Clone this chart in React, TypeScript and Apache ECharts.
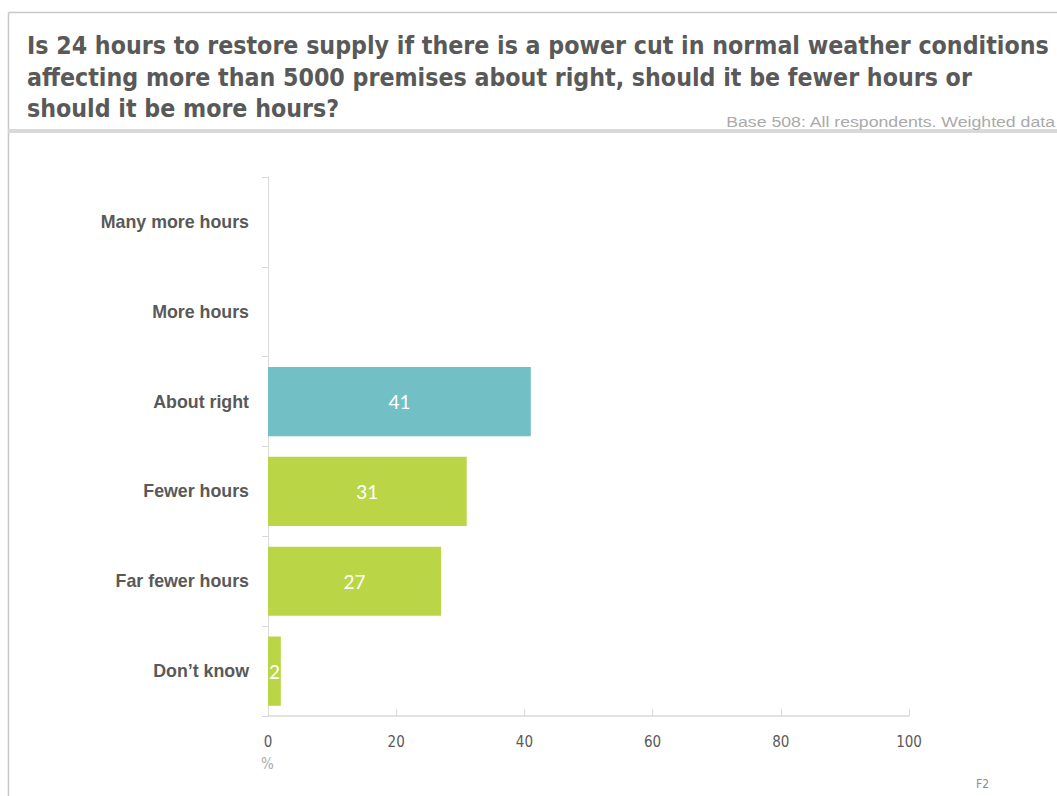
import React, { useEffect, useRef } from "react";
import * as echarts from "echarts";

const categories = [
  "Many more hours",
  "More hours",
  "About right",
  "Fewer hours",
  "Far fewer hours",
  "Don’t know",
];
const values = [0, 0, 41, 31, 27, 2];
const barColors = ["#BAD646", "#BAD646", "#72BFC5", "#BAD646", "#BAD646", "#BAD646"];
const xTicks = [0, 20, 40, 60, 80, 100];

const titleLines = [
  "Is 24 hours to restore supply if there is a power cut in normal weather conditions",
  "affecting more than 5000 premises about right, should it be fewer hours or",
  "should it be more hours?",
];
const baseNote = "Base 508: All respondents. Weighted data";

export default function App() {
  const ref = useRef<HTMLDivElement>(null);

  useEffect(() => {
    if (!ref.current) return;
    const chart = echarts.init(ref.current, null, { renderer: "svg" });
    const titleFont = '"DejaVu Sans Condensed", "DejaVu Sans", sans-serif';
    const option: echarts.EChartsOption = {
      animation: false,
      backgroundColor: "#ffffff",
      grid: { left: 268, right: 148, top: 177, bottom: 80, containLabel: false },
      xAxis: {
        type: "value",
        min: xTicks[0],
        max: xTicks[xTicks.length - 1],
        interval: 20,
        axisLine: { show: true, lineStyle: { color: "#d9d9d9", width: 1.5 } },
        axisTick: { show: true, inside: true, length: 7, lineStyle: { color: "#d9d9d9" } },
        splitLine: { show: false },
        axisLabel: {
          color: "#595959",
          fontSize: 15,
          fontFamily: titleFont,
          margin: 18,
        },
      },
      yAxis: {
        type: "category",
        data: categories,
        inverse: true,
        axisLine: { show: true, lineStyle: { color: "#d9d9d9" } },
        axisTick: { show: true, length: 6, lineStyle: { color: "#d9d9d9" } },
        axisLabel: {
          color: "#595959",
          fontSize: 17.8,
          fontWeight: "bold",
          fontFamily: '"Liberation Sans", Arial, sans-serif',
          margin: 19,
        },
      },
      series: [
        {
          type: "bar",
          barWidth: "77%",
          data: values.map((v, i) => ({ value: v, itemStyle: { color: barColors[i] } })),
          label: {
            show: true,
            position: "inside",
            color: "#ffffff",
            fontSize: 19,
            fontFamily: "Lato, sans-serif",
            formatter: (p: any) => (p.value ? String(p.value) : ""),
          },
        },
      ],
      graphic: [
        // frame
        { type: "line", shape: { x1: 8.5, y1: 12.5, x2: 1057, y2: 12.5 }, style: { stroke: "#c8c8c8", lineWidth: 1.5 } },
        { type: "line", shape: { x1: 8.5, y1: 12.5, x2: 8.5, y2: 796 }, style: { stroke: "#c8c8c8", lineWidth: 1.5 } },
        { type: "rect", shape: { x: 8, y: 129, width: 1049, height: 4 }, style: { fill: "#d9d9d9" } },
        ...titleLines.map((t, i) => ({
          type: "text" as const,
          x: 27,
          y: 45.5 + i * 31.5,
          style: {
            text: t,
            fill: "#595959",
            font: `bold 24.7px ${titleFont}`,
            textVerticalAlign: "middle",
          },
        })),
        {
          type: "text",
          x: 1055,
          y: 122,
          scaleX: 1.22,
          style: {
            text: baseNote,
            fill: "#aaaaaa",
            font: '14.5px "Liberation Sans", Arial, sans-serif',
            textAlign: "right",
            textVerticalAlign: "middle",
          },
        },
        {
          type: "text",
          x: 261,
          y: 756,
          style: { text: "%", fill: "#aaaaaa", font: `15px ${titleFont}` },
        },
        {
          type: "text",
          x: 976,
          y: 778,
          style: { text: "F2", fill: "#8c8c8c", font: `12px ${titleFont}` },
        },
      ],
    };
    chart.setOption(option);
    return () => chart.dispose();
  }, []);

  return (
    <div
      ref={ref}
      style={{ position: "absolute", left: 0, top: 0, width: 1057, height: 796 }}
    />
  );
}
